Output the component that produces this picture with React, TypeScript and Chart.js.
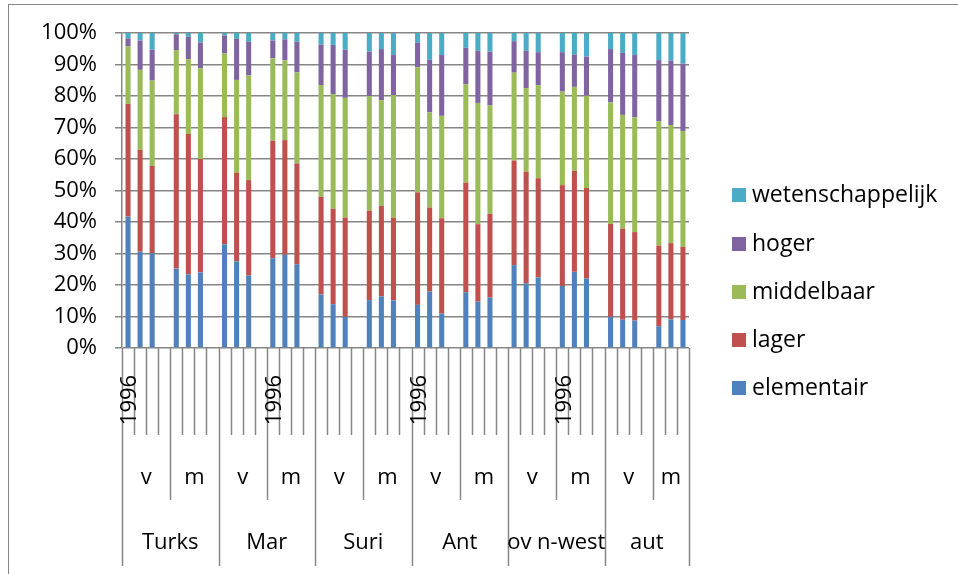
import React, { useEffect, useRef } from "react";
import { Chart, registerables } from "chart.js";

Chart.register(...registerables);

// ---- data (percent shares per bar) ----
const groups = ["Turks", "Mar", "Suri", "Ant", "ov n-west", "aut"];
const sexes = ["v", "m"];
// three survey years per sub-group; only the first one (1996) is legible in the reference
const years = ["1996", "", ""];

const elementair = [
  41.7, 30.6, 30.1, 25.2, 23.4, 24.0,
  32.9, 27.5, 23.0, 28.5, 29.6, 26.6,
  17.0, 13.9, 9.9, 15.2, 16.4, 15.1,
  13.7, 17.9, 10.9, 17.7, 14.7, 16.0,
  26.3, 20.5, 22.4, 19.7, 24.2, 22.1,
  9.9, 9.0, 8.7, 6.9, 9.1, 8.9,
];
const lager = [
  35.8, 32.3, 27.7, 49.0, 44.5, 36.0,
  40.4, 28.2, 30.3, 37.3, 36.4, 32.0,
  31.0, 30.3, 31.5, 28.4, 28.7, 26.3,
  35.7, 26.7, 30.3, 34.8, 24.6, 26.6,
  33.2, 35.5, 31.5, 32.0, 32.1, 28.7,
  29.5, 28.9, 28.1, 25.6, 24.2, 23.2,
];
const middelbaar = [
  18.2, 25.4, 27.1, 20.4, 23.8, 28.8,
  20.2, 29.4, 33.2, 26.2, 25.3, 28.9,
  35.5, 36.4, 38.0, 36.4, 33.6, 38.9,
  39.7, 30.2, 32.5, 31.2, 38.5, 34.4,
  27.9, 26.5, 29.5, 29.7, 26.6, 29.3,
  38.6, 36.1, 36.4, 39.5, 37.5, 36.8,
];
const hoger = [
  2.6, 9.3, 9.8, 5.0, 7.1, 8.2,
  5.7, 13.2, 10.7, 5.6, 6.7, 9.7,
  12.8, 15.6, 15.3, 14.1, 16.2, 12.7,
  7.8, 16.7, 19.3, 11.6, 16.6, 17.1,
  10.0, 11.9, 10.5, 12.5, 10.3, 12.4,
  16.9, 19.7, 19.8, 19.4, 20.4, 21.4,
];
const wetenschappelijk = [
  1.7, 2.4, 5.3, 0.4, 1.2, 3.0,
  0.8, 1.7, 2.8, 2.4, 2.0, 2.8,
  3.7, 3.8, 5.3, 5.9, 5.1, 7.0,
  3.1, 8.5, 7.0, 4.7, 5.6, 5.9,
  2.6, 5.6, 6.1, 6.1, 6.8, 7.5,
  5.1, 6.3, 7.0, 8.6, 8.8, 9.7,
];

const seriesNames = ["elementair", "lager", "middelbaar", "hoger", "wetenschappelijk"];
const seriesValues = [elementair, lager, middelbaar, hoger, wetenschappelijk];
const seriesColors = ["#4F81BD", "#C0504D", "#9BBB59", "#8064A2", "#4BACC6"];
const yTicks = [0, 10, 20, 30, 40, 50, 60, 70, 80, 90, 100];

// ---- build category table: 3 bars per sub-group, a blank slot between sub-groups ----
type Cat = { label: string; src: number | null };
const cats: Cat[] = [];
const groupStarts: number[] = [];
const subStarts: { idx: number; label: string }[] = [];
const groupInfo: { start: number; label: string }[] = [];
{
  let k = 0;
  groups.forEach((g, gi) => {
    groupInfo.push({ start: cats.length, label: g });
    groupStarts.push(cats.length);
    sexes.forEach((s, si) => {
      subStarts.push({ idx: cats.length, label: s });
      years.forEach((y) => {
        cats.push({ label: y, src: k });
        k++;
      });
      const last = gi === groups.length - 1 && si === sexes.length - 1;
      if (!last) cats.push({ label: "", src: null });
    });
  });
}
const labels = cats.map((c) => c.label);

const FONT = "'Open Sans', 'DejaVu Sans', sans-serif";
const FS = 22;
const LEG_FS = 23;
const GRID = "#868686";

const axisPlugin = {
  id: "multiAxis",
  beforeDraw(chart: any) {
    const ctx = chart.ctx;
    ctx.save();
    ctx.strokeStyle = GRID;
    ctx.lineWidth = 1;
    ctx.strokeRect(8.5, 4.5, 3000, 3000);
    ctx.restore();
  },
  afterDraw(chart: any) {
    const ctx = chart.ctx;
    const xs = chart.scales.x;
    const area = chart.chartArea;
    const n = labels.length;
    const step = xs.getPixelForValue(1) - xs.getPixelForValue(0);
    const b = (i: number) => xs.getPixelForValue(Math.min(i, n - 1)) + (i >= n ? step / 2 : -step / 2);
    const y0 = area.bottom;
    ctx.save();
    ctx.strokeStyle = GRID;
    ctx.lineWidth = 1.5;
    const subSet = new Set(subStarts.map((s) => s.idx));
    const grpSet = new Set(groupStarts);
    for (let i = 0; i <= n; i++) {
      let len = 87;
      if (grpSet.has(i) || i === n) len = 218;
      else if (subSet.has(i)) len = 152;
      const x = Math.round(b(i)) + 0.5;
      ctx.beginPath();
      ctx.moveTo(x, y0);
      ctx.lineTo(x, y0 + len);
      ctx.stroke();
    }
    ctx.fillStyle = "#000";
    ctx.font = `${FS}px ${FONT}`;
    // year labels (every 12th category, rotated)
    for (let i = 0; i < n; i += 12) {
      const x = xs.getPixelForValue(i);
      ctx.save();
      ctx.translate(x + 1, y0 + 52);
      ctx.rotate(-Math.PI / 2);
      ctx.textAlign = "center";
      ctx.textBaseline = "middle";
      ctx.fillText(labels[i], 0, 1);
      ctx.restore();
    }
    // sub-group labels
    ctx.textAlign = "center";
    ctx.textBaseline = "middle";
    subStarts.forEach((s, j) => {
      const end = j + 1 < subStarts.length ? subStarts[j + 1].idx : n;
      const cx = (b(s.idx) + b(end)) / 2;
      ctx.fillText(s.label, cx, y0 + 130);
    });
    groupInfo.forEach((g, j) => {
      const end = j + 1 < groupInfo.length ? groupInfo[j + 1].start : n;
      const cx = (b(g.start) + b(end)) / 2;
      ctx.fillText(g.label, cx, y0 + 195);
    });
    // legend (reverse order)
    ctx.font = `${LEG_FS}px ${FONT}`;
    const ds = chart.data.datasets;
    const rows = [195, 244, 292, 340, 388];
    for (let r = 0; r < ds.length; r++) {
      const d = ds[ds.length - 1 - r];
      const y = rows[r];
      ctx.fillStyle = d.backgroundColor;
      ctx.fillRect(732, y - 7, 14, 14);
      ctx.fillStyle = "#000";
      ctx.textAlign = "left";
      ctx.fillText(d.label, 752, y);
    }
    ctx.restore();
  },
};

export default function App() {
  const ref = useRef<HTMLCanvasElement | null>(null);
  useEffect(() => {
    if (!ref.current) return;
    const datasets = seriesNames.map((name, si) => ({
      label: name,
      data: cats.map((c) => (c.src === null ? null : seriesValues[si][c.src])),
      backgroundColor: seriesColors[si],
      borderWidth: 0,
      barPercentage: 0.42,
      categoryPercentage: 1,
    }));
    const chart = new Chart(ref.current, {
      type: "bar",
      data: { labels, datasets },
      options: {
        responsive: false,
        animation: false,
        layout: { padding: { left: 0, top: 33, right: 269, bottom: 226 } },
        plugins: { legend: { display: false }, tooltip: { enabled: false } },
        font: { family: FONT, size: FS },
        scales: {
          x: { stacked: true, display: false },
          y: {
            stacked: true,
            min: 0,
            max: 100,
            afterFit: (s: any) => {
              s.width = 122;
            },
            afterBuildTicks: (s: any) => {
              s.ticks = yTicks.map((v) => ({ value: v }));
            },
            ticks: {
              color: "#000",
              padding: 18,
              font: { family: FONT, size: FS },
              callback: (v: any) => `${v}%`,
            },
            grid: { color: GRID, lineWidth: 1.5, tickLength: 7, drawTicks: true },
            border: { color: GRID, width: 1.5 },
          },
        },
      } as any,
      plugins: [axisPlugin],
    });
    return () => chart.destroy();
  }, []);
  return (
    <div style={{ position: "absolute", left: 0, top: 0, width: 958, height: 574, background: "#fff" }}>
      <canvas ref={ref} width={958} height={574} style={{ width: 958, height: 574, display: "block" }} />
    </div>
  );
}
